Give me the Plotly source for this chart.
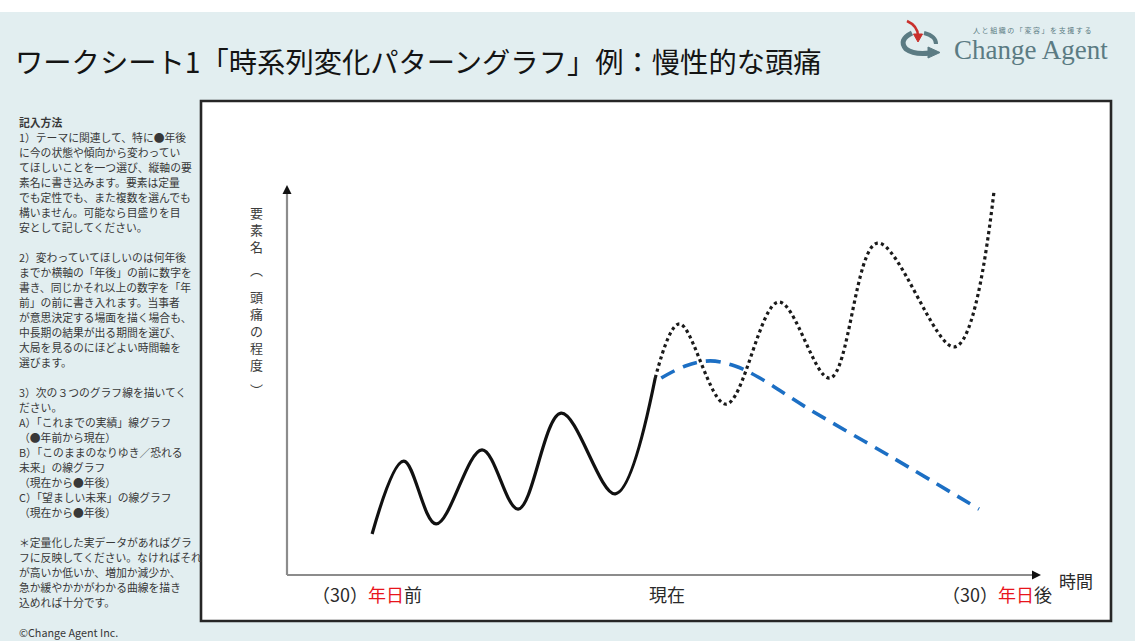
import plotly.graph_objects as go

# ---- data (t: time units along the horizontal axis, v: level of the element) ----
past_t = [11.3, 15.5, 19.8, 25.9, 30.7, 36.4, 43.6, 48.9]
past_v = [10.5, 29.2, 13.1, 32.1, 16.9, 41.5, 20.8, 50.5]

fear_t = [48.9, 52.1, 58.3, 65.3, 72.1, 78.4, 88.7, 93.9]
fear_v = [50.5, 64.4, 43.8, 70.0, 50.5, 85.1, 58.5, 98.5]

hope_t = [49.7, 52.9, 56.2, 59.5, 62.8, 69.1, 80.5, 91.9]
hope_v = [50.5, 53.6, 54.9, 53.6, 50.5, 42.8, 30.0, 16.9]

x_tick_labels = ["（30）<span style='color:#e8141c'>年日</span>前",
                 "現在",
                 "（30）<span style='color:#e8141c'>年日</span>後"]
x_axis_title = "時間"
y_axis_title = ["要", "素", "名", "︵", "頭", "痛", "の", "程", "度", "︶"]

title_text = "ワークシート1「時系列変化パターングラフ」例：慢性的な頭痛"

instructions = [
    ("記入方法", True),
    ("1）テーマに関連して、特に●年後", False),
    ("に今の状態や傾向から変わってい", False),
    ("てほしいことを一つ選び、縦軸の要", False),
    ("素名に書き込みます。要素は定量", False),
    ("でも定性でも、また複数を選んでも", False),
    ("構いません。可能なら目盛りを目", False),
    ("安として記してください。", False),
    ("", False),
    ("2）変わっていてほしいのは何年後", False),
    ("までか横軸の「年後」の前に数字を", False),
    ("書き、同じかそれ以上の数字を「年", False),
    ("前」の前に書き入れます。当事者", False),
    ("が意思決定する場面を描く場合も、", False),
    ("中長期の結果が出る期間を選び、", False),
    ("大局を見るのにほどよい時間軸を", False),
    ("選びます。", False),
    ("", False),
    ("3）次の３つのグラフ線を描いてく", False),
    ("ださい。", False),
    ("A）「これまでの実績」線グラフ", False),
    ("（●年前から現在）", False),
    ("B）「このままのなりゆき／恐れる", False),
    ("未来」の線グラフ", False),
    ("（現在から●年後）", False),
    ("C）「望ましい未来」の線グラフ", False),
    ("（現在から●年後）", False),
    ("", False),
    ("＊定量化した実データがあればグラ", False),
    ("フに反映してください。なければそれ", False),
    ("が高いか低いか、増加か減少か、", False),
    ("急か緩やかかがわかる曲線を描き", False),
    ("込めれば十分です。", False),
    ("", False),
    ("©Change Agent Inc.", False),
]

# ---- page geometry (pixels) ----
W, H = 1135, 641
L, R, T, B = 287, 1040, 185, 575   # plot area = axis frame
PW, PH = R - L, B - T


def px(x):
    return (x - L) / PW


def py(y):
    return (B - y) / PH


JP = "Noto Sans CJK JP, Noto Sans, sans-serif"
BG = "#e2eef0"

fig = go.Figure()

fig.add_trace(go.Scatter(x=past_t, y=past_v, mode="lines",
                         line=dict(color="#111111", width=3.2, shape="spline", smoothing=1.0),
                         hoverinfo="skip", showlegend=False))
fig.add_trace(go.Scatter(x=fear_t, y=fear_v, mode="lines",
                         line=dict(color="#1a1a1a", width=3.2, dash="dot", shape="spline", smoothing=1.0),
                         hoverinfo="skip", showlegend=False))
fig.add_trace(go.Scatter(x=hope_t, y=hope_v, mode="lines",
                         line=dict(color="#1c6fc4", width=3.6, dash="15px,9px", shape="spline", smoothing=1.0),
                         hoverinfo="skip", showlegend=False))

shapes = []
# page background and white chart panel
shapes.append(dict(type="rect", xref="paper", yref="paper", layer="below",
                   x0=px(0), x1=px(W), y0=py(H), y1=py(12),
                   fillcolor=BG, line=dict(width=0)))
shapes.append(dict(type="rect", xref="paper", yref="paper", layer="below",
                   x0=px(201), x1=px(1111), y0=py(621), y1=py(101),
                   fillcolor="white", line=dict(color="#262626", width=2.6)))
# axis lines
shapes.append(dict(type="line", xref="paper", yref="paper", layer="below",
                   x0=0, x1=0, y0=0, y1=py(192), line=dict(color="#8c8c8c", width=2.2)))
shapes.append(dict(type="line", xref="paper", yref="paper", layer="below",
                   x0=0, x1=px(1034), y0=0, y1=0, line=dict(color="#8c8c8c", width=2.2)))

# logo mark: grey swirl with red arrow
def path(points):
    s = "M {} {}".format(px(points[0][0]), py(points[0][1]))
    for i in range(1, len(points), 2):
        c, e = points[i], points[i + 1]
        s += " Q {} {} {} {}".format(px(c[0]), py(c[1]), px(e[0]), py(e[1]))
    return s

GREY = "#5b7b83"
shapes.append(dict(type="path", xref="paper", yref="paper",
                   path=path([(912, 33), (898, 40), (906, 49), (914, 55), (930, 53)]),
                   line=dict(color=GREY, width=5)))
shapes.append(dict(type="path", xref="paper", yref="paper",
                   path="M {} {} L {} {} L {} {} Z".format(px(928), py(47), px(940), py(52.5), px(928), py(58)),
                   fillcolor=GREY, line=dict(color=GREY, width=1)))
shapes.append(dict(type="path", xref="paper", yref="paper",
                   path=path([(924, 33), (936, 36), (936, 44)]),
                   line=dict(color=GREY, width=4)))
shapes.append(dict(type="path", xref="paper", yref="paper",
                   path=path([(907, 21), (918, 26), (918, 36)]),
                   line=dict(color="#c9302c", width=2.5)))
shapes.append(dict(type="path", xref="paper", yref="paper",
                   path="M {} {} L {} {} L {} {} Z".format(px(913.5), py(34), px(922.5), py(34), px(918), py(42)),
                   fillcolor="#c9302c", line=dict(color="#c9302c", width=1)))

ann = []
# arrow heads of the axes
ann.append(dict(xref="paper", yref="paper", x=0, y=py(185), ax=0, ay=9, text="",
                showarrow=True, arrowhead=2, arrowsize=0.9, arrowwidth=2, arrowcolor="#111"))
ann.append(dict(xref="paper", yref="paper", x=px(1041), y=0, ax=-9, ay=0, text="",
                showarrow=True, arrowhead=2, arrowsize=0.9, arrowwidth=2, arrowcolor="#111"))

# title
ann.append(dict(xref="paper", yref="paper", x=px(13), y=py(60), xanchor="left", yanchor="middle",
                text=title_text, showarrow=False, font=dict(family=JP, size=28.3, color="#141414")))
# logo text
ann.append(dict(xref="paper", yref="paper", x=px(1032), y=py(30), xanchor="center", yanchor="middle",
                text=" ".join("人と組織の「変容」を支援する"), showarrow=False,
                font=dict(family=JP, size=7, color=GREY)))
ann.append(dict(xref="paper", yref="paper", x=px(1031), y=py(50), xanchor="center", yanchor="middle",
                text="Change Agent", showarrow=False,
                font=dict(family="Liberation Serif, serif", size=27, color=GREY)))

# instructions column
for i, (line, bold) in enumerate(instructions):
    if not line:
        continue
    ann.append(dict(xref="paper", yref="paper", x=px(17), y=py(122 + 15 * i),
                    xanchor="left", yanchor="middle", showarrow=False,
                    text="<b>{}</b>".format(line) if bold else line,
                    font=dict(family=JP, size=10.8, color="#383838")))

# vertical axis title, one glyph per row
for ch, yc in zip(y_axis_title, [212, 229, 246, 269, 296, 313, 330, 347, 364, 389]):
    ann.append(dict(xref="paper", yref="paper", x=px(256), y=py(yc), xanchor="center", yanchor="middle",
                    text=ch, showarrow=False, font=dict(family=JP, size=13, color="#3c3c3c")))

# horizontal axis labels
for t, xc in zip(x_tick_labels, [367, 667, 997]):
    ann.append(dict(xref="paper", yref="paper", x=px(xc), y=py(594), xanchor="center", yanchor="middle",
                    text=t, showarrow=False, font=dict(family=JP, size=18, color="#2a2a2a")))
ann.append(dict(xref="paper", yref="paper", x=px(1076), y=py(580), xanchor="center", yanchor="middle",
                text=x_axis_title, showarrow=False, font=dict(family=JP, size=17, color="#2a2a2a")))

fig.update_layout(
    width=W, height=H,
    margin=dict(l=L, r=W - R, t=T, b=H - B, pad=0),
    paper_bgcolor="white", plot_bgcolor="rgba(0,0,0,0)",
    xaxis=dict(range=[0, 100], visible=False, fixedrange=True),
    yaxis=dict(range=[0, 100], visible=False, fixedrange=True),
    shapes=shapes, annotations=ann, showlegend=False,
)

fig.write_html("out.html", config={"displayModeBar": False})
